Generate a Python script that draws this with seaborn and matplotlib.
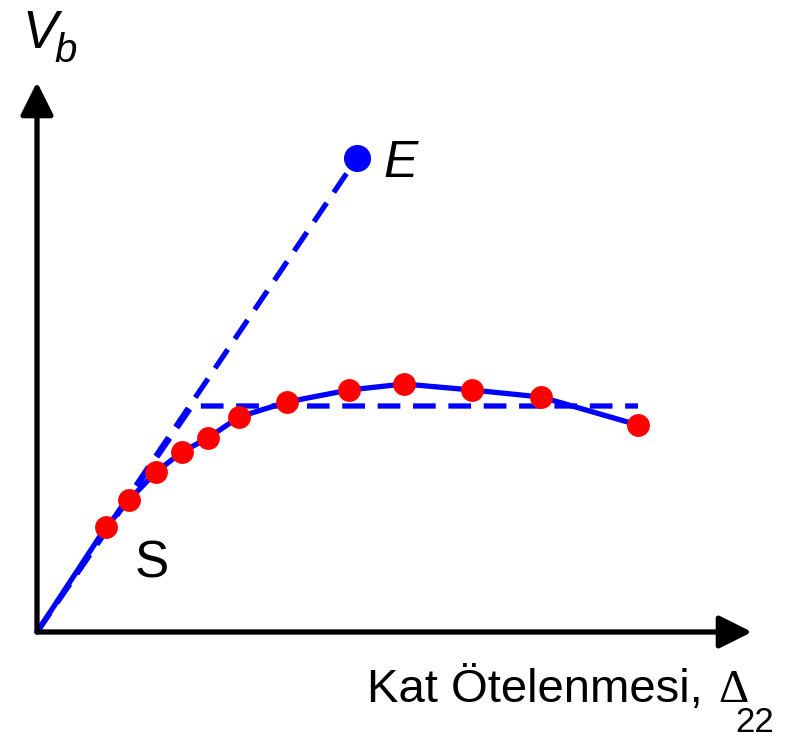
import numpy as np
import pandas as pd
import seaborn as sns
import matplotlib.pyplot as plt

# Pushover curve (schematic): story drift vs base shear
drift = [0, 69, 92, 119, 145, 171, 202, 250, 312, 367, 435, 504, 601]
shear = [0, 105, 132, 160, 180, 194, 215, 230, 242, 248, 242, 235, 207]

# elastic line up to point E
elastic_drift = [0, 320]
elastic_shear = [0, 474]

# idealized bilinear curve
bilinear_drift = [0, 155, 601]
bilinear_shear = [0, 226, 226]

sns.set_theme(style="white")
plt.rcParams['font.family'] = ['Liberation Sans', 'DejaVu Sans']
plt.rcParams['text.color'] = 'black'

fig = plt.figure(figsize=(8, 7.4), dpi=100)
ax = fig.add_axes([0, 0, 1, 1])
ax.set_xlim(-37, 763)
ax.set_ylim(-108, 632)
ax.axis('off')

lw = 3.8
dash = (0, (4.3, 2.4))

# dashed elastic line to E and idealized bilinear line
sns.lineplot(x=elastic_drift, y=elastic_shear, ax=ax, color='blue', lw=lw,
             linestyle=dash, sort=False)
sns.lineplot(x=bilinear_drift, y=bilinear_shear, ax=ax, color='blue', lw=lw,
             linestyle=dash, sort=False)

# solid capacity curve
sns.lineplot(x=drift, y=shear, ax=ax, color='blue', lw=lw, sort=False)

# analysis points
pts = pd.DataFrame({'drift': drift[1:], 'shear': shear[1:]})
sns.scatterplot(data=pts, x='drift', y='shear', ax=ax, color='red', s=270,
                linewidth=0, zorder=5)

# point E
sns.scatterplot(x=elastic_drift[-1:], y=elastic_shear[-1:], ax=ax, color='blue',
                s=380, linewidth=0, zorder=5)

# axes with arrows
arrow = dict(arrowstyle='-|>,head_length=1.0,head_width=0.5', lw=lw,
             color='black', mutation_scale=20, shrinkA=0, shrinkB=0)
ax.annotate('', xy=(0, 550), xytext=(0, 0), arrowprops=arrow)
ax.annotate('', xy=(715, 0), xytext=(0, 0), arrowprops=arrow)

# labels
ax.text(-15, 584, 'V', fontsize=38, style='italic', va='baseline', ha='left')
ax.text(17, 570, 'b', fontsize=29, style='italic', va='baseline', ha='left')
ax.text(346, 455, 'E', fontsize=37, style='italic', va='baseline', ha='left')
ax.text(98, 55, 'S', fontsize=37, va='baseline', ha='left')
ax.text(666, -70, 'Kat Ötelenmesi,', fontsize=34, va='baseline', ha='right')
ax.text(711, -70, 'Δ', fontsize=34, va='baseline', ha='right',
        family=['Liberation Serif', 'DejaVu Serif'])
ax.text(737, -100, '22', fontsize=25, va='baseline', ha='right')

fig.savefig('out.png', dpi=100)
